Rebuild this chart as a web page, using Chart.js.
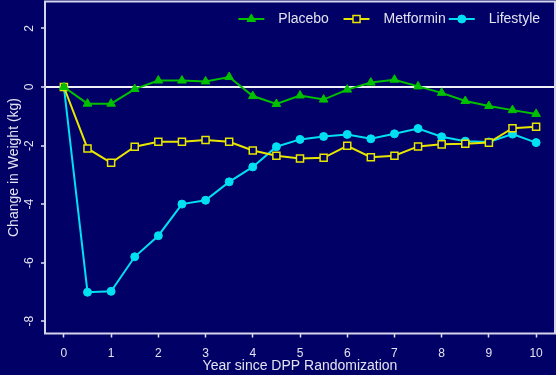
<!DOCTYPE html>
<html>
<head>
<meta charset="utf-8">
<script src="https://cdn.jsdelivr.net/npm/chart.js@4.4.1/dist/chart.umd.min.js"></script>
<style>
  html, body { margin: 0; padding: 0; background: #000066; }
  #wrap { width: 556px; height: 375px; position: relative; }
</style>
</head>
<body>
<div id="wrap"><canvas id="weight-chart"></canvas></div>
<script>
// Years since randomisation (every 6 months)
const years = [0, 0.5, 1, 1.5, 2, 2.5, 3, 3.5, 4, 4.5, 5, 5.5, 6, 6.5, 7, 7.5, 8, 8.5, 9, 9.5, 10];

const placebo = [0, -0.57, -0.57, -0.07, 0.22, 0.22, 0.19, 0.34, -0.31, -0.58, -0.29,
    -0.43, -0.09, 0.15, 0.25, 0.02, -0.20, -0.48, -0.65, -0.79, -0.92];
const metformin = [0, -2.10, -2.59, -2.04, -1.87, -1.87, -1.81, -1.87, -2.17, -2.35, -2.44,
    -2.42, -2.01, -2.40, -2.35, -2.03, -1.96, -1.94, -1.90, -1.41, -1.36];
const lifestyle = [0, -7.01, -6.98, -5.80, -5.08, -4.00, -3.87, -3.24, -2.73, -2.04, -1.79,
    -1.69, -1.62, -1.77, -1.60, -1.42, -1.70, -1.85, -1.88, -1.61, -1.90];

const seriesNames = ['Placebo', 'Metformin', 'Lifestyle'];
const xTicks = [0, 1, 2, 3, 4, 5, 6, 7, 8, 9, 10];
const yTicks = [-8, -6, -4, -2, 0, 2];

const bg = '#000066';
const fg = '#e2e2f0';
const fontFamily = '"Liberation Sans", Arial, Helvetica, sans-serif';

function toPoints(values) {
    return values.map((v, i) => ({ x: years[i], y: v }));
}

// box round the plot region
const boxPlugin = {
    id: 'box',
    afterDraw(chart) {
        const { ctx, chartArea } = chart;
        ctx.save();
        ctx.strokeStyle = '#d4d4ea';
        ctx.lineWidth = 2;
        ctx.strokeRect(chartArea.left, chartArea.top, chartArea.right - chartArea.left, chartArea.bottom - chartArea.top);
        ctx.restore();
    }
};

// y tick labels, rotated like in R
const yLabelPlugin = {
    id: 'yLabels',
    afterDraw(chart) {
        const { ctx, chartArea } = chart;
        const scale = chart.scales.y;
        ctx.save();
        ctx.fillStyle = fg;
        ctx.font = '12px ' + fontFamily;
        ctx.textAlign = 'center';
        ctx.textBaseline = 'middle';
        yTicks.forEach(v => {
            ctx.save();
            ctx.translate(chartArea.left - 15, scale.getPixelForValue(v));
            ctx.rotate(-Math.PI / 2);
            ctx.fillText(String(v), 0, 0);
            ctx.restore();
        });
        ctx.restore();
    }
};

// horizontal legend, equal column widths
const legendPlugin = {
    id: 'rLegend',
    afterDraw(chart) {
        const { ctx, chartArea } = chart;
        ctx.save();
        ctx.font = '14px ' + fontFamily;
        const maxW = Math.max(...seriesNames.map(n => ctx.measureText(n).width));
        const step = 40 + maxW + 3;
        const sets = chart.data.datasets;
        let x = chartArea.right - 1 - step * sets.length;
        const y = chartArea.top + 17.5;
        sets.forEach(ds => {
            ctx.strokeStyle = ds.borderColor;
            ctx.lineWidth = 2;
            ctx.beginPath();
            ctx.moveTo(x, y);
            ctx.lineTo(x + 26, y);
            ctx.stroke();
            ctx.fillStyle = ds.pointBackgroundColor;
            ctx.strokeStyle = ds.pointBorderColor;
            ctx.lineWidth = ds.pointBorderWidth;
            Chart.helpers.drawPoint(ctx, {
                pointStyle: ds.pointStyle,
                radius: ds.pointRadius,
                rotation: 0,
                borderWidth: ds.pointBorderWidth
            }, x + 13, y);
            ctx.fillStyle = fg;
            ctx.textAlign = 'left';
            ctx.textBaseline = 'middle';
            ctx.fillText(ds.label, x + 40, y);
            x += step;
        });
        ctx.restore();
    }
};

const ctx = document.getElementById('weight-chart');

new Chart(ctx, {
    type: 'line',
    data: {
        datasets: [{
            label: seriesNames[0],
            data: toPoints(placebo),
            borderColor: '#00c000',
            borderWidth: 2,
            pointStyle: 'triangle',
            pointRadius: 5,
            pointBackgroundColor: '#00c000',
            pointBorderColor: '#00c000',
            pointBorderWidth: 1
        },
        {
            label: seriesNames[1],
            data: toPoints(metformin),
            borderColor: '#e6e600',
            borderWidth: 2,
            pointStyle: 'rect',
            pointRadius: 5,
            pointBackgroundColor: bg,
            pointBorderColor: '#e6e600',
            pointBorderWidth: 1.5
        },
        {
            label: seriesNames[2],
            data: toPoints(lifestyle),
            borderColor: '#00e0f0',
            borderWidth: 2,
            pointStyle: 'circle',
            pointRadius: 4,
            pointBackgroundColor: '#00e0f0',
            pointBorderColor: '#00e0f0',
            pointBorderWidth: 1
        }]
    },
    options: {
        responsive: true,
        maintainAspectRatio: false,
        animation: false,
        layout: {
            autoPadding: false,
            padding: { top: 1.5, right: 1, left: 0, bottom: 0 }
        },
        scales: {
            x: {
                type: 'linear',
                min: -0.4,
                max: 10.4,
                afterBuildTicks: scale => { scale.ticks = xTicks.map(v => ({ value: v })); },
                afterFit: scale => { scale.height = 41.5; scale.paddingLeft = 0; scale.paddingRight = 0; },
                border: { display: false },
                grid: {
                    drawOnChartArea: false,
                    tickLength: 4,
                    tickColor: fg,
                    tickWidth: 1.5
                },
                ticks: {
                    color: fg,
                    font: { family: fontFamily, size: 12 },
                    padding: 9,
                    maxRotation: 0
                },
                title: {
                    display: true,
                    text: 'Year since DPP Randomization',
                    color: fg,
                    font: { family: fontFamily, size: 14 },
                    padding: { top: 0, bottom: 0 }
                }
            },
            y: {
                min: -8.42,
                max: 2.92,
                afterBuildTicks: scale => { scale.ticks = yTicks.map(v => ({ value: v })); },
                afterFit: scale => { scale.width = 45; scale.paddingTop = 0; scale.paddingBottom = 0; },
                border: { display: false },
                grid: {
                    color: c => (c.tick && c.tick.value === 0) ? '#f0f0f8' : 'rgba(0,0,0,0)',
                    lineWidth: 2,
                    tickLength: 4,
                    tickColor: fg,
                    tickWidth: 1.5
                },
                ticks: { display: false },
                title: {
                    display: true,
                    text: 'Change in Weight (kg)',
                    color: fg,
                    font: { family: fontFamily, size: 14 },
                    padding: { top: 5.5, bottom: 0 }
                }
            }
        },
        plugins: {
            legend: { display: false },
            tooltip: { enabled: false }
        }
    },
    plugins: [boxPlugin, yLabelPlugin, legendPlugin]
});
</script>
</body>
</html>
